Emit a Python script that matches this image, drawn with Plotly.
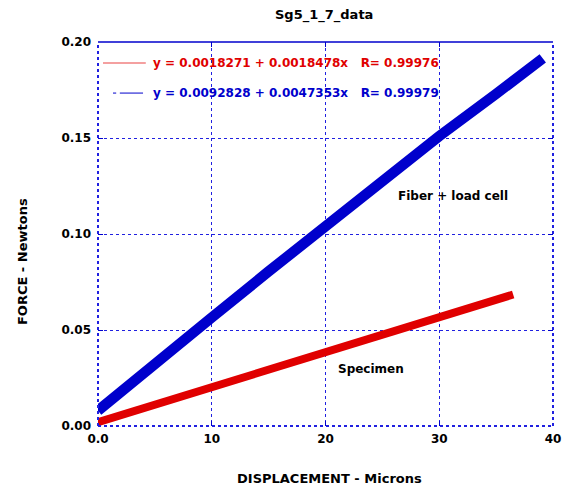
import plotly.graph_objects as go

# Data
fiber_x = [0.0, 2.0, 5.0, 10.0, 15.0, 20.0, 25.0, 30.0, 35.0, 39.1]
fiber_y = [0.0080, 0.0180, 0.0320, 0.0565, 0.0805, 0.1040, 0.1280, 0.1510, 0.1730, 0.1915]
spec_x = [0.0, 5.0, 10.0, 15.0, 20.0, 25.0, 30.0, 36.5]
spec_y = [0.0020, 0.0110, 0.0200, 0.0295, 0.0390, 0.0480, 0.0570, 0.0685]

x_ticks = [0, 10, 20, 30, 40]
x_ticktext = ["0.0", "10", "20", "30", "40"]
y_ticks = [0.0, 0.05, 0.10, 0.15, 0.20]
y_ticktext = ["0.00", "0.05", "0.10", "0.15", "0.20"]

title = "Sg5_1_7_data"
x_title = "DISPLACEMENT - Microns"
y_title = "FORCE - Newtons"
red_eq = "y = 0.0018271 + 0.0018478x   R= 0.99976"
blue_eq = "y = 0.0092828 + 0.0047353x   R= 0.99979"
labels = [("Fiber + load cell", 31.2, 0.120), ("Specimen", 24.0, 0.0295)]

RED = "#e00000"
BLUE = "#0000cc"
FONT = "DejaVu Sans, sans-serif"

fig = go.Figure()
fig.add_trace(go.Scatter(x=spec_x, y=spec_y, mode="lines",
                         line=dict(color=RED, width=8), showlegend=False))
fig.add_trace(go.Scatter(x=fiber_x, y=fiber_y, mode="lines",
                         line=dict(color=BLUE, width=10.5), showlegend=False))

axis_common = dict(
    showgrid=True, gridcolor="#2020e0", griddash="dot", gridwidth=1,
    zeroline=False, showline=False, ticks="inside", ticklen=5,
    tickcolor=BLUE, tickwidth=1, mirror="ticks", automargin=False,
    tickfont=dict(family=FONT, size=12, color="black", weight="bold"),
)

fig.update_layout(
    width=562, height=487,
    margin=dict(l=98, r=9, t=42, b=61),
    paper_bgcolor="white", plot_bgcolor="white",
    hovermode=False,
    xaxis=dict(range=[0, 40], tickvals=x_ticks, ticktext=x_ticktext, ticklabelstandoff=4,
               **axis_common),
    yaxis=dict(range=[0, 0.2], tickvals=y_ticks, ticktext=y_ticktext, ticklabelstandoff=6,
               **axis_common),
)

# titles
fig.add_annotation(xref="paper", yref="paper", x=0.496, y=1, yshift=27, yanchor="middle",
                   text=title, showarrow=False,
                   font=dict(family=FONT, size=13, color="black", weight="bold"))
fig.add_annotation(xref="paper", yref="paper", x=0.508, y=0, yshift=-52, yanchor="middle",
                   text=x_title, showarrow=False,
                   font=dict(family=FONT, size=13, color="black", weight="bold"))
fig.add_annotation(xref="paper", yref="paper", x=0, xshift=-76, y=0.427, xanchor="center",
                   yanchor="middle", textangle=-90, text=y_title, showarrow=False,
                   font=dict(family=FONT, size=13, color="black", weight="bold"))

# frame
fig.add_shape(type="line", xref="paper", yref="paper", x0=0, x1=1, y0=1, y1=1,
              line=dict(color=BLUE, width=1.5))
for (x0, y0, x1, y1) in [(0, 0, 0, 1), (0, 0, 1, 0), (1, 0, 1, 1)]:
    fig.add_shape(type="line", xref="paper", yref="paper", x0=x0, x1=x1, y0=y0, y1=y1,
                  line=dict(color="#2020e0", width=2, dash="dot"))

# legend samples
fig.add_shape(type="line", xref="paper", yref="paper", x0=0.011, x1=0.105, y0=0.945, y1=0.945,
              line=dict(color="#f08080", width=1.5))
fig.add_shape(type="line", xref="paper", yref="paper", x0=0.033, x1=0.040, y0=0.867, y1=0.867,
              line=dict(color=BLUE, width=1))
fig.add_shape(type="line", xref="paper", yref="paper", x0=0.048, x1=0.099, y0=0.867, y1=0.867,
              line=dict(color=BLUE, width=1))
fig.add_annotation(xref="paper", yref="paper", x=0.116, y=0.945, xanchor="left", yanchor="middle",
                   text=red_eq, showarrow=False,
                   font=dict(family=FONT, size=12, color=RED, weight="bold"))
fig.add_annotation(xref="paper", yref="paper", x=0.116, y=0.867, xanchor="left", yanchor="middle",
                   text=blue_eq, showarrow=False,
                   font=dict(family=FONT, size=12, color=BLUE, weight="bold"))

for txt, lx, ly in labels:
    fig.add_annotation(x=lx, y=ly, text=txt, showarrow=False,
                       font=dict(family=FONT, size=12, color="black", weight="bold"))

fig.write_html(
    "out.html",
    config={"displayModeBar": False, "staticPlot": True},
    post_script="document.body.style.margin='0';document.body.style.overflow='hidden';",
)
